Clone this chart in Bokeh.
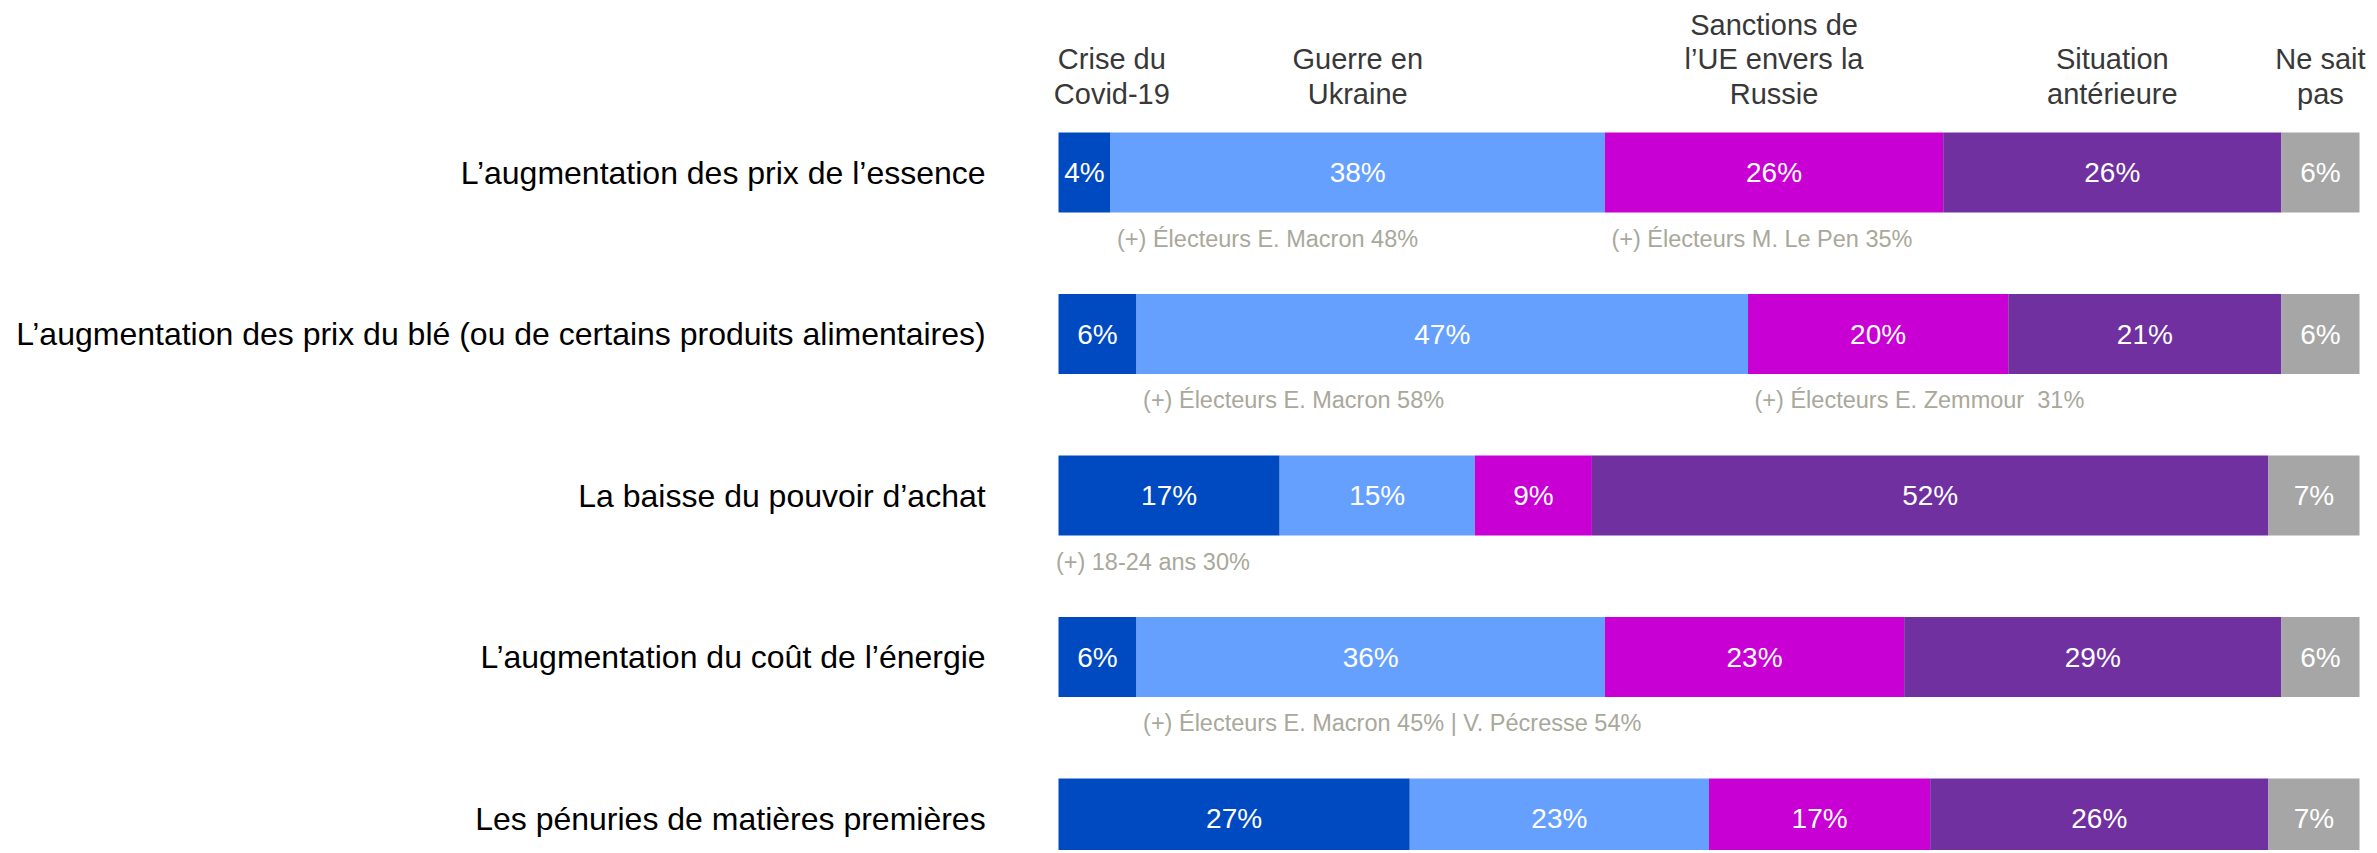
from bokeh.plotting import figure
from bokeh.models import Range1d, ColumnDataSource
from bokeh.core.properties import value
from bokeh.embed import file_html
from bokeh.resources import INLINE

# ---------------- data ----------------
items = [
    "L\u2019augmentation des prix de l\u2019essence",
    "L\u2019augmentation des prix du bl\u00e9 (ou de certains produits alimentaires)",
    "La baisse du pouvoir d\u2019achat",
    "L\u2019augmentation du co\u00fbt de l\u2019\u00e9nergie",
    "Les p\u00e9nuries de mati\u00e8res premi\u00e8res",
]
categories = [
    "Crise du\nCovid-19",
    "Guerre en\nUkraine",
    "Sanctions de\nl\u2019UE envers la\nRussie",
    "Situation\nant\u00e9rieure",
    "Ne sait\npas",
]
covid = [4, 6, 17, 6, 27]
guerre = [38, 47, 15, 36, 23]
sanctions = [26, 20, 9, 23, 17]
anterieure = [26, 21, 52, 29, 26]
nsp = [6, 6, 7, 6, 7]
series = [covid, guerre, sanctions, anterieure, nsp]
colors = ["#004AC1", "#66A0FF", "#C800D4", "#7030A0", "#A6A6A6"]

ann_rows = [0, 0, 1, 1, 2, 3]
ann_cats = [1, 2, 1, 2, 0, 1]
ann_texts = [
    "(+) \u00c9lecteurs E. Macron 48%",
    "(+) \u00c9lecteurs M. Le Pen 35%",
    "(+) \u00c9lecteurs E. Macron 58%",
    "(+) \u00c9lecteurs E. Zemmour\u00a0 31%",
    "(+) 18-24 ans 30%",
    "(+) \u00c9lecteurs E. Macron 45% | V. P\u00e9cresse 54%",
]

# ---------------- layout ----------------
W, H = 2372, 850
PX_PER_PCT = 13.01
X0_PX = 1058  # bar origin in figure pixels
ROW0 = 172.0
ROW_STEP = 161.5
BAR_H = 80
FONT = "Liberation Sans"

x_start = -X0_PX / PX_PER_PCT
x_end = (W - X0_PX) / PX_PER_PCT

p = figure(width=W, height=H, output_backend="svg", toolbar_location=None,
           x_range=Range1d(x_start, x_end), y_range=Range1d(H, 0),
           min_border=0, outline_line_color=None)
p.axis.visible = False
p.grid.visible = False
p.background_fill_color = "white"
p.border_fill_color = "white"

n = len(items)
ys = [ROW0 + i * ROW_STEP for i in range(n)]

lefts = [0.0] * n
starts = []
for k, s in enumerate(series):
    rights = [lefts[i] + s[i] for i in range(n)]
    src = ColumnDataSource(dict(y=ys, left=lefts, right=rights,
                                mid=[(lefts[i] + rights[i]) / 2 for i in range(n)],
                                lab=[f"{v}%" for v in s]))
    p.hbar(y="y", left="left", right="right", height=BAR_H, source=src,
           fill_color=colors[k], line_color=None)
    p.text(x="mid", y="y", text="lab", source=src, text_color="white",
           text_font=value(FONT), text_font_size="28px",
           text_align="center", text_baseline="middle")
    starts.append(list(lefts))
    lefts = rights

# row labels
p.text(x=[-5.6] * n, y=ys, text=items, text_color="#000000",
       text_font=value(FONT), text_font_size="32px",
       text_align="right", text_baseline="middle")

# headers: centred over first row segments
hx, hy, ht = [], [], []
for k, cat in enumerate(categories):
    c = starts[k][0] + series[k][0] / 2
    if k == 0:
        c = 4.1
    lines = cat.split("\n")
    m = len(lines)
    for j, line in enumerate(lines):
        hx.append(c)
        hy.append(93 - (m - 1 - j) * 34.5)
        ht.append(line)
p.text(x=hx, y=hy, text=ht, text_color="#383838",
       text_font=value(FONT), text_font_size="29px",
       text_align="center", text_baseline="middle")

# annotations
ax = [starts[c][r] + (0.5 if c > 0 else -0.2) for r, c in zip(ann_rows, ann_cats)]
ay = [ys[r] + 66 for r in ann_rows]
p.text(x=ax, y=ay, text=ann_texts, text_color="#A8A89B",
       text_font=value(FONT), text_font_size="23.5px",
       text_align="left", text_baseline="middle")

open("out.html", "w").write(file_html(p, INLINE))
